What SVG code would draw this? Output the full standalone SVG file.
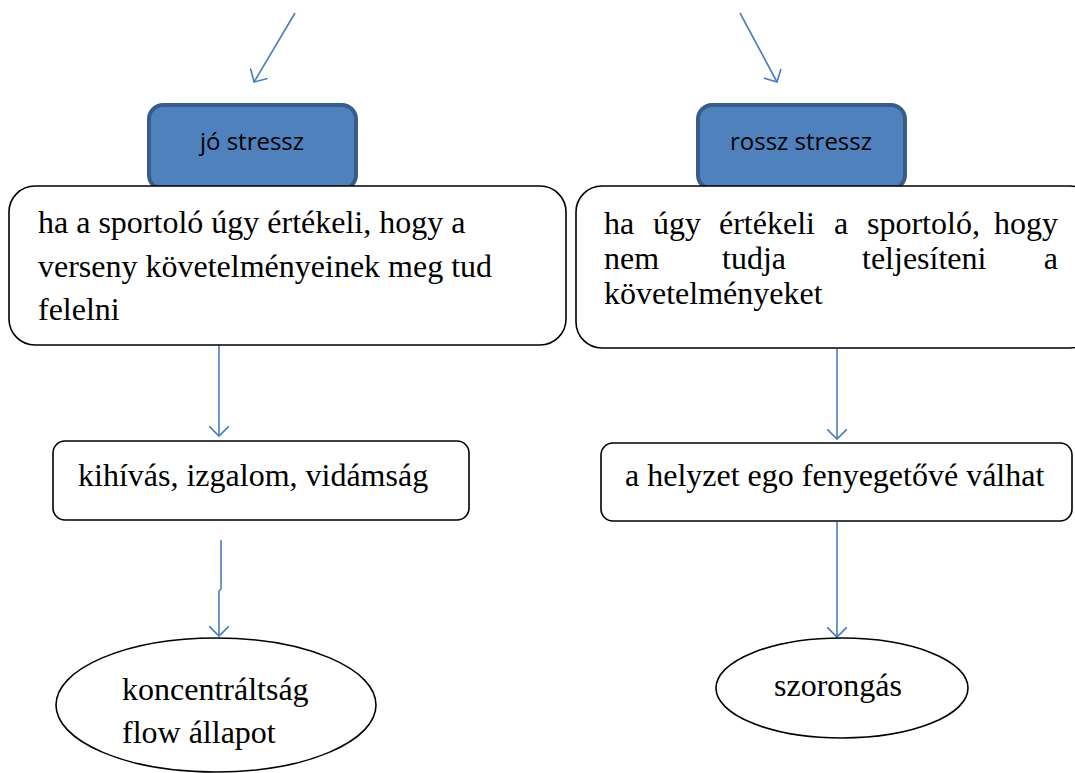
<svg xmlns="http://www.w3.org/2000/svg" width="1075" height="773" viewBox="0 0 1075 773">
<defs>
<style>
.conn{fill:none;stroke:#4A7EBB;stroke-width:1.6}
.box{fill:#fff;stroke:#000;stroke-width:1.6}
.blue{fill:#4F81BD;stroke:#385D8A;stroke-width:4}
.serif{font-family:"Liberation Serif","Times New Roman",serif;font-size:32px;fill:#000}
.sans{font-family:"Open Sans","Liberation Sans",sans-serif;font-size:24px;fill:#000}
</style>
<marker id="arr" viewBox="0 0 20 20" refX="10" refY="10" markerWidth="20" markerHeight="20" markerUnits="userSpaceOnUse" orient="auto">
<polyline points="0,0 10,10 0,20" fill="none" stroke="#4A7EBB" stroke-width="1.6"/>
</marker>
</defs>
<rect width="1075" height="773" fill="#fff"/>
<g id="connectors">
<line class="conn" x1="295" y1="13" x2="254" y2="82" marker-end="url(#arr)"/>
<line class="conn" x1="740" y1="13" x2="777" y2="82" marker-end="url(#arr)"/>
<line class="conn" x1="219" y1="345" x2="219" y2="436" marker-end="url(#arr)"/>
<polyline class="conn" points="221,540 221,589 219,591 219,636" marker-end="url(#arr)"/>
<line class="conn" x1="837" y1="349" x2="837" y2="439" marker-end="url(#arr)"/>
<line class="conn" x1="837" y1="522" x2="837" y2="637" marker-end="url(#arr)"/>
</g>
<g id="jo-stressz">
<rect class="blue" x="149" y="105" width="207" height="84" rx="14"/>
<text class="sans" x="252" y="150" text-anchor="middle">jó stressz</text>
</g>
<g id="rossz-stressz">
<rect class="blue" x="698" y="105" width="207" height="84" rx="14"/>
<text class="sans" x="801" y="150" text-anchor="middle">rossz stressz</text>
</g>
<g id="jo-leiras">
<rect class="box" x="9" y="186" width="557" height="159" rx="26"/>
<text class="serif" x="38" y="233">ha a sportoló úgy értékeli, hogy a</text>
<text class="serif" x="38" y="277">verseny követelményeinek meg tud</text>
<text class="serif" x="38" y="320">felelni</text>
</g>
<g id="rossz-leiras">
<rect class="box" x="576" y="186" width="520" height="162" rx="26"/>
<text class="serif" x="604" y="234">ha</text>
<text class="serif" x="653" y="234">úgy</text>
<text class="serif" x="719" y="234">értékeli</text>
<text class="serif" x="834" y="234">a</text>
<text class="serif" x="867" y="234">sportoló,</text>
<text class="serif" x="1058" y="234" text-anchor="end">hogy</text>
<text class="serif" x="604" y="269">nem</text>
<text class="serif" x="722" y="269">tudja</text>
<text class="serif" x="862" y="269">teljesíteni</text>
<text class="serif" x="1058" y="269" text-anchor="end">a</text>
<text class="serif" x="604" y="304">követelményeket</text>
</g>
<g id="kihivas">
<rect class="box" x="53" y="441" width="416" height="79" rx="12"/>
<text class="serif" x="78" y="486">kihívás, izgalom, vidámság</text>
</g>
<g id="helyzet">
<rect class="box" x="601" y="443" width="471" height="78" rx="12"/>
<text class="serif" x="625" y="486">a helyzet ego fenyegetővé válhat</text>
</g>
<g id="koncentraltsag">
<ellipse class="box" cx="216" cy="705" rx="160" ry="67"/>
<text class="serif" x="122" y="700">koncentráltság</text>
<text class="serif" x="122" y="743">flow állapot</text>
</g>
<g id="szorongas">
<ellipse class="box" cx="842" cy="688" rx="126" ry="50"/>
<text class="serif" x="838" y="696" text-anchor="middle">szorongás</text>
</g>
</svg>
